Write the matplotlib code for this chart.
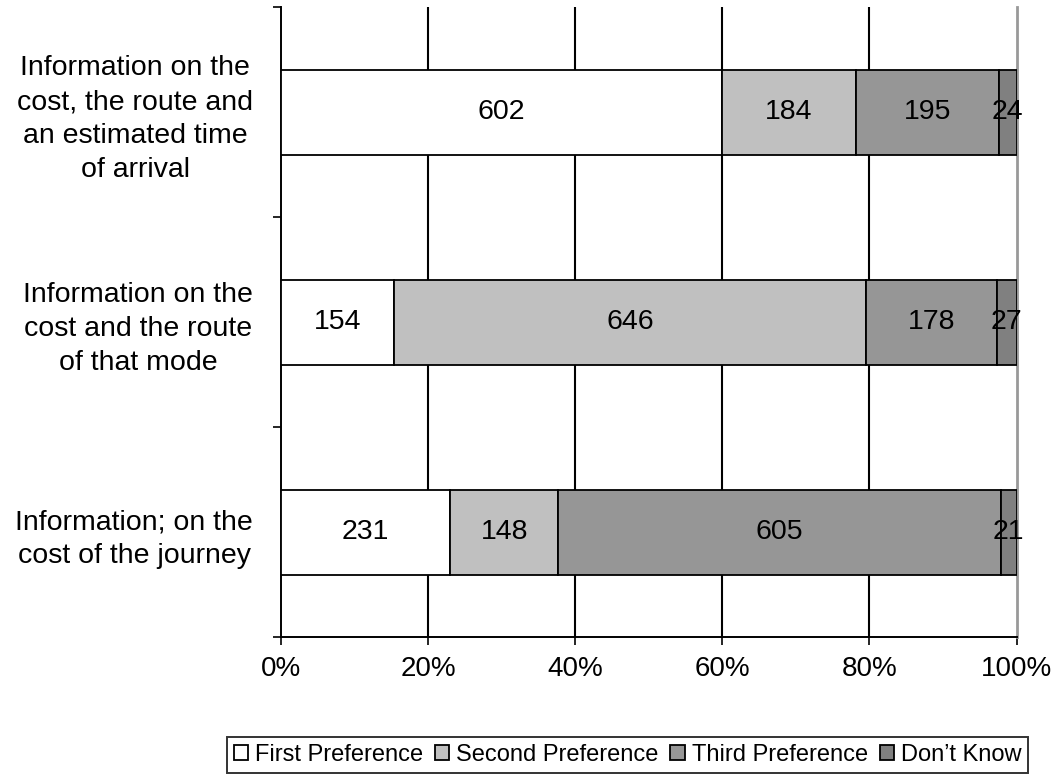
import numpy as np
import matplotlib.pyplot as plt

plt.rcParams['font.family'] = ['Liberation Sans', 'DejaVu Sans']

# categories from bottom to top
categories = [
    "Information; on the\ncost of the journey",
    "Information on the\ncost and the route\nof that mode",
    "Information on the\ncost, the route and\nan estimated time\nof arrival",
]
series_names = ["First Preference", "Second Preference", "Third Preference", "Don\u2019t Know"]
first = [231, 154, 602]
second = [148, 646, 184]
third = [605, 178, 195]
dont_know = [21, 27, 24]
colors = ["#FFFFFF", "#C0C0C0", "#969696", "#808080"]
x_ticks = [0, 20, 40, 60, 80, 100]

counts = np.array([first, second, third, dont_know], dtype=float)
totals = counts.sum(axis=0)
pct = counts / totals * 100

fig = plt.figure(figsize=(10.6, 7.82), dpi=100)
ax = fig.add_axes([0.265, 0.1855, 0.694, 0.805])

y = np.arange(len(categories))
left = np.zeros(len(categories))
for i, name in enumerate(series_names):
    ax.barh(y, pct[i], left=left, height=0.405, color=colors[i],
            edgecolor="black", linewidth=1.3, label=name, zorder=3)
    for j in range(len(categories)):
        ax.text(left[j] + pct[i][j] / 2, y[j], f"{int(counts[i][j])}",
                ha="center", va="center", fontsize=20.5, zorder=4)
    left += pct[i]

ax.set_xlim(0, 100)
ax.set_ylim(-0.5, 2.5)
ax.set_xticks(x_ticks)
ax.set_xticklabels([f"{t}%" for t in x_ticks], fontsize=20)
ax.tick_params(axis="x", length=6, width=1.2, pad=8)
for t in x_ticks[1:-1]:
    ax.axvline(t, color="black", linewidth=1.5, zorder=1)

ax.set_yticks([-0.5, 0.5, 1.5, 2.5])
ax.set_yticklabels([])
ax.set_yticks(y, minor=True)
ax.set_yticklabels(categories, minor=True, fontsize=20.5, ha="right",
                   multialignment="center", linespacing=1.4)
ax.tick_params(axis="y", which="minor", length=0, pad=20)
ax.tick_params(axis="y", which="major", length=6, width=1.2)

ax.spines["top"].set_visible(False)
ax.spines["right"].set_color("#999999")
ax.spines["right"].set_linewidth(2)
ax.spines["left"].set_linewidth(1.4)
ax.spines["bottom"].set_linewidth(1.4)

leg = fig.legend(loc="center", bbox_to_anchor=(0.592, 0.035), ncol=4,
                 fontsize=17, frameon=True, fancybox=False, edgecolor="black",
                 handlelength=0.6, handleheight=0.6, handletextpad=0.3,
                 columnspacing=0.5, borderpad=0.3, borderaxespad=0)
leg.get_frame().set_linewidth(1.4)

fig.savefig("out.png", dpi=100)
